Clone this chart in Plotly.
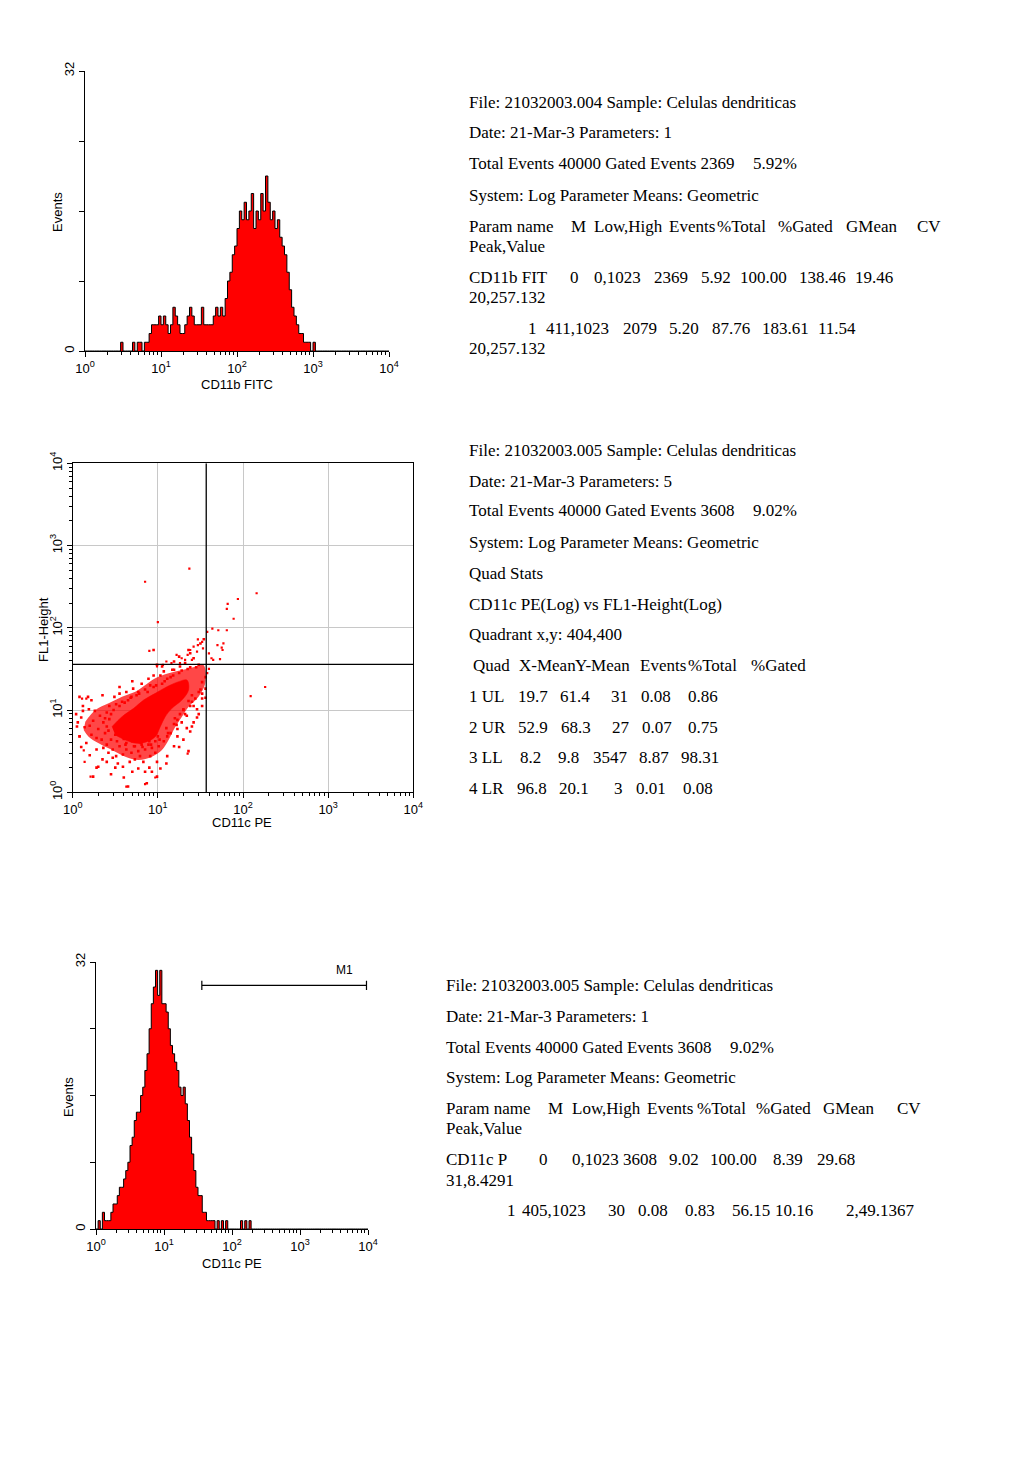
import numpy as np
import plotly.graph_objects as go

PAGE_W, PAGE_H = 1024, 1479
OFF = 8                     # the page body margin
W, H = PAGE_W - OFF, PAGE_H - OFF

# ---------------- DATA ----------------
# 128 log-spaced channels over 4 decades (10^0 .. 10^4)
n_bins = 128
cd11b_counts = [0]*15 + [1] + [0]*4 + [1, 0, 1, 1, 0, 1, 1,
    2, 3, 3, 3, 4, 3, 4, 3, 2, 3, 5, 4, 3, 2, 2, 3, 4, 5, 4, 3, 3, 3, 5, 3, 3,
    3, 3, 4, 5, 4, 5, 4, 6, 8, 9, 11, 12, 14, 16, 15, 17, 15, 16, 18, 14, 16, 15,
    18, 16, 20, 17, 15, 16, 14, 15, 13, 12, 11, 9, 7, 5, 4, 3, 2, 2, 1, 1, 1, 0, 1] + [0]*31

cd11c_counts = [0, 1, 0, 2, 1, 1, 1, 2, 3, 3, 4, 5, 5, 6, 7, 8, 10, 11, 13, 14, 14,
    16, 17, 19, 21, 24, 27, 29, 31, 28, 31, 27, 27, 26, 24, 22, 21, 20, 19, 17, 16,
    17, 15, 13, 11, 9, 7, 5, 4, 4, 2, 2, 1, 1, 1, 1, 0, 1, 0, 1, 0, 1,
    0, 0, 0, 0, 0, 0, 1, 0, 1, 0, 1] + [0]*55

# scatter CD11c PE (x) vs FL1-Height (y), values as log10
# medium-density envelope of the LL population
env_logx = [0.148, 0.266, 0.422, 0.579, 0.735, 0.853, 0.970, 1.126, 1.283, 1.439, 1.537, 1.557,
            1.478, 1.361, 1.283, 1.205, 1.126, 1.048, 0.931, 0.774, 0.618, 0.461, 0.305, 0.187,
            0.129]
env_logy = [0.859, 1.001, 1.082, 1.163, 1.223, 1.305, 1.386, 1.446, 1.487, 1.527, 1.548, 1.325,
            1.163, 1.041, 0.920, 0.798, 0.636, 0.514, 0.433, 0.393, 0.433, 0.514, 0.595, 0.676,
            0.757]
# dense core
core_logx = [0.461, 0.579, 0.716, 0.833, 0.970, 1.107, 1.244, 1.342, 1.361, 1.283, 1.166, 1.087,
             1.029, 0.970, 0.872, 0.755, 0.618, 0.500]
core_logy = [0.798, 0.920, 1.021, 1.122, 1.203, 1.284, 1.345, 1.365, 1.244, 1.122, 1.021, 0.920,
             0.798, 0.676, 0.616, 0.595, 0.636, 0.697]

halo_logx = [0.95, 0.99, 1.05, 1.07, 1.17, 1.19, 1.25, 1.36, 1.38, 1.50, 1.54, 1.42, 0.89, 0.81,
             0.71, 0.63, 0.55, 0.49, 0.95, 1.03, 1.11, 0.91, 0.77, 0.69, 0.61, 0.51, 0.43, 1.19,
             1.26, 1.32,
             0.08, 0.18, 0.10, 0.19, 0.24, 0.14, 0.08, 0.22, 0.16, 0.28, 0.30, 0.40, 0.24, 0.42,
             0.32, 0.36, 0.30, 0.38, 0.34, 0.26, 0.40, 0.43, 0.20, 0.12, 0.06, 0.28, 0.40, 0.45,
             0.36, 0.47,
             0.51, 0.59, 0.65, 0.87, 0.99, 0.93, 0.83, 0.73, 0.99, 1.11, 1.36, 1.19, 0.55, 0.63,
             0.69, 0.77, 0.85, 0.93, 1.01, 1.07, 0.59, 0.79, 0.91, 0.67, 0.47, 0.77, 0.85, 1.03,
             0.53, 0.97, 0.73, 0.63, 0.81, 0.89, 0.97, 1.11,
             1.30, 1.38, 1.42, 1.34, 1.46, 1.52, 1.56, 1.23, 1.28, 1.19, 1.38, 1.44, 1.48, 1.52,
             1.56, 1.26, 1.15, 1.23, 1.36, 1.40, 1.30, 1.23, 1.34, 1.46, 1.52, 1.56,
             0.40, 0.45, 0.50, 0.55, 0.60, 0.65, 0.70, 0.75, 0.80, 0.85, 0.90, 0.95, 1.00, 1.05,
             1.10, 1.15, 1.20, 1.25, 1.30, 1.35, 1.40, 1.45, 1.50, 0.38, 0.42, 0.48, 0.52, 0.58,
             0.62, 0.68, 0.72, 0.78, 0.82, 0.88, 0.92, 0.98, 1.02, 1.08, 1.12, 1.18, 1.22, 1.28,
             1.32, 1.38, 1.42, 1.48, 1.52,
             0.05, 0.12, 0.22, 0.35, 0.55, 0.70, 0.10, 0.20, 0.35, 0.50, 0.70, 1.10, 1.25, 1.40,
             1.48, 0.04, 0.28, 0.45, 0.60, 0.90]
halo_logy = [1.73, 1.55, 1.53, 1.47, 1.49, 1.59, 1.65, 1.73, 1.69, 1.81, 1.86, 1.63, 1.38, 1.32,
             1.26, 1.22, 1.20, 1.16, 1.42, 1.42, 1.38, 1.30, 1.22, 1.16, 1.09, 1.07, 1.05, 1.49,
             1.53, 1.57,
             1.16, 1.16, 0.91, 1.01, 0.87, 0.79, 0.68, 0.70, 0.60, 0.52, 0.31, 0.37, 0.19, 0.48,
             0.93, 0.85, 0.77, 0.72, 0.64, 0.99, 0.97, 0.89, 0.81, 0.99, 0.85, 0.66, 0.58, 0.64,
             0.54, 0.52,
             0.44, 0.31, 0.07, 0.11, 0.19, 0.25, 0.37, 0.40, 0.37, 0.44, 0.50, 0.56, 0.56, 0.52,
             0.48, 0.50, 0.52, 0.54, 0.56, 0.62, 0.46, 0.44, 0.44, 0.37, 0.42, 0.29, 0.25, 0.29,
             0.35, 0.48, 0.56, 0.60, 0.58, 0.58, 0.62, 0.68,
             0.64, 0.74, 0.85, 0.93, 1.01, 1.14, 1.26, 0.77, 0.85, 0.83, 1.05, 1.14, 1.22, 1.34,
             1.40, 0.95, 0.72, 0.68, 1.11, 1.18, 1.01, 0.88, 0.78, 0.91, 1.05, 1.15,
             0.80, 0.95, 0.70, 1.05, 0.65, 1.12, 0.62, 1.18, 0.60, 1.25, 0.62, 1.28, 0.68, 1.32,
             0.78, 1.40, 0.90, 1.45, 1.00, 1.50, 1.10, 1.52, 1.25, 0.90, 0.75, 1.00, 0.62, 1.10,
             0.58, 1.15, 0.56, 1.20, 0.55, 1.22, 0.58, 1.30, 0.64, 1.35, 0.72, 1.42, 0.82, 1.48,
             0.95, 1.52, 1.05, 1.55, 1.20,
             0.80, 1.05, 1.12, 1.18, 1.28, 1.35, 0.55, 0.45, 0.40, 0.30, 0.25, 0.35, 0.55, 0.80,
             0.95, 0.95, 0.30, 0.22, 0.18, 0.30]

outlier_logx = [1.37, 0.85, 1.00, 0.90, 2.16, 1.94, 1.82, 1.81, 1.89, 1.58, 1.64, 1.71, 1.81,
                1.47, 1.52, 1.47, 1.42, 1.38, 1.35, 1.53, 1.46, 1.70, 1.75, 1.77, 1.76, 1.60,
                1.63, 1.73, 1.65, 1.22, 1.28, 1.32, 1.16, 1.26, 1.40, 0.99, 1.06, 1.10, 2.26,
                2.09, 1.35, 0.97, 0.85, 0.63, 0.21, 0.11, 0.16, 0.08, 0.13, 0.14, 1.60, 1.58]
outlier_logy = [2.72, 2.56, 2.07, 1.72, 2.42, 2.35, 2.29, 2.23, 2.11, 1.95, 1.99, 1.97, 1.97,
                1.86, 1.83, 1.79, 1.77, 1.73, 1.67, 1.75, 1.71, 1.79, 1.76, 1.81, 1.73, 1.69,
                1.63, 1.62, 1.61, 1.67, 1.63, 1.61, 1.57, 1.57, 1.61, 1.53, 1.55, 1.59, 1.28,
                1.17, 0.47, 0.18, 0.10, 0.07, 0.19, 1.14, 1.14, 0.68, 0.51, 0.37, 1.50, 1.45]

quad_x, quad_y = 37.0, 36.0          # quadrant cross (PE, FL1)
m1_low, m1_high, m1_level = 36.0, 9500.0, 29.2

decade_vals = [1, 10, 100, 1000, 10000]
decade_text = ["10<sup>0</sup>", "10<sup>1</sup>", "10<sup>2</sup>", "10<sup>3</sup>", "10<sup>4</sup>"]
minor_vals = [m * 10**d for d in range(4) for m in range(2, 10)]

# text blocks: (x_px, y_px, text) in page pixels
block_top = [
    (469, 103, "File: 21032003.004 Sample: Celulas dendriticas"),
    (469, 133, "Date: 21-Mar-3 Parameters: 1"),
    (469, 164, "Total Events 40000 Gated Events 2369"), (753, 164, "5.92%"),
    (469, 195, "System: Log Parameter Means: Geometric"),
    (469, 226, "Param name"), (571, 226, "M"), (594, 226, "Low,High"), (669, 226, "Events"),
    (717, 226, "%Total"), (778, 226, "%Gated"), (846, 226, "GMean"), (917, 226, "CV"),
    (469, 246, "Peak,Value"),
    (469, 277, "CD11b FIT"), (570, 277, "0"), (594, 277, "0,1023"), (654, 277, "2369"),
    (701, 277, "5.92"), (740, 277, "100.00"), (799, 277, "138.46"), (855, 277, "19.46"),
    (469, 297, "20,257.132"),
    (528, 328, "1"), (546, 328, "411,1023"), (623, 328, "2079"), (669, 328, "5.20"),
    (712, 328, "87.76"), (762, 328, "183.61"), (818, 328, "11.54"),
    (469, 349, "20,257.132"),
]
block_mid = [
    (469, 450, "File: 21032003.005 Sample: Celulas dendriticas"),
    (469, 481, "Date: 21-Mar-3 Parameters: 5"),
    (469, 511, "Total Events 40000 Gated Events 3608"), (753, 511, "9.02%"),
    (469, 542, "System: Log Parameter Means: Geometric"),
    (469, 573, "Quad Stats"),
    (469, 604, "CD11c PE(Log) vs FL1-Height(Log)"),
    (469, 634, "Quadrant x,y: 404,400"),
    (473, 665, "Quad"), (519, 665, "X-Mean"), (575, 665, "Y-Mean"), (640, 665, "Events"),
    (688, 665, "%Total"), (751, 665, "%Gated"),
    (469, 696, "1 UL"), (518, 696, "19.7"), (560, 696, "61.4"), (611, 696, "31"), (641, 696, "0.08"), (688, 696, "0.86"),
    (469, 727, "2 UR"), (518, 727, "52.9"), (561, 727, "68.3"), (612, 727, "27"), (642, 727, "0.07"), (688, 727, "0.75"),
    (469, 757, "3 LL"), (520, 757, "8.2"), (558, 757, "9.8"), (593, 757, "3547"), (639, 757, "8.87"), (681, 757, "98.31"),
    (469, 788, "4 LR"), (517, 788, "96.8"), (559, 788, "20.1"), (614, 788, "3"), (636, 788, "0.01"), (683, 788, "0.08"),
]
block_bot = [
    (446, 985, "File: 21032003.005 Sample: Celulas dendriticas"),
    (446, 1016, "Date: 21-Mar-3 Parameters: 1"),
    (446, 1047, "Total Events 40000 Gated Events 3608"), (730, 1047, "9.02%"),
    (446, 1077, "System: Log Parameter Means: Geometric"),
    (446, 1108, "Param name"), (548, 1108, "M"), (572, 1108, "Low,High"), (647, 1108, "Events"),
    (697, 1108, "%Total"), (756, 1108, "%Gated"), (823, 1108, "GMean"), (897, 1108, "CV"),
    (446, 1128, "Peak,Value"),
    (446, 1159, "CD11c P"), (539, 1159, "0"), (572, 1159, "0,1023"), (623, 1159, "3608"),
    (669, 1159, "9.02"), (710, 1159, "100.00"), (773, 1159, "8.39"), (817, 1159, "29.68"),
    (446, 1180, "31,8.4291"),
    (507, 1210, "1"), (522, 1210, "405,1023"), (608, 1210, "30"), (638, 1210, "0.08"),
    (685, 1210, "0.83"), (732, 1210, "56.15"), (775, 1210, "10.16"), (846, 1210, "2,49.1367"),
]

# ---------------- FIGURE ----------------
def fx(px):
    return (px - OFF) / W

def fy(py):
    return 1 - (py - OFF) / H

def px_dom_x(a, b):
    return [fx(a), fx(b)]

def px_dom_y(top, bottom):
    return [fy(bottom), fy(top)]

edges = 10 ** (np.arange(n_bins + 1) * 4.0 / n_bins)

def step_xy(counts):
    xs = list(edges[:-1]) + [edges[-1]]
    ys = list(counts) + [counts[-1]]
    return xs, ys

RED = "#ff0000"
fig = go.Figure()

x1, y1 = step_xy(cd11b_counts)
fig.add_trace(go.Scatter(x=x1, y=y1, mode="lines", line=dict(shape="hv", color="black", width=1),
                         fill="tozeroy", fillcolor=RED, xaxis="x", yaxis="y", hoverinfo="skip"))

# scatter panel
fig.add_trace(go.Scatter(x=10 ** np.array(env_logx), y=10 ** np.array(env_logy), mode="lines",
                         fill="toself", fillcolor="rgba(255,0,0,0.72)", line=dict(width=0),
                         line_shape="spline", xaxis="x2", yaxis="y2", hoverinfo="skip"))
fig.add_trace(go.Scatter(x=10 ** np.array(core_logx), y=10 ** np.array(core_logy), mode="lines",
                         fill="toself", fillcolor=RED, line=dict(color=RED, width=0.5, shape="spline"),
                         xaxis="x2", yaxis="y2", hoverinfo="skip"))
fig.add_trace(go.Scatter(x=10 ** np.array(halo_logx), y=10 ** np.array(halo_logy), mode="markers",
                         marker=dict(color=RED, size=2.6, symbol="square", line=dict(width=0)),
                         xaxis="x2", yaxis="y2", hoverinfo="skip"))
fig.add_trace(go.Scatter(x=10 ** np.array(outlier_logx), y=10 ** np.array(outlier_logy), mode="markers",
                         marker=dict(color=RED, size=2.2, symbol="square", line=dict(width=0)),
                         xaxis="x2", yaxis="y2", hoverinfo="skip"))
fig.add_trace(go.Scatter(x=[quad_x, quad_x], y=[1, 10000], mode="lines", line=dict(color="black", width=1.3),
                         xaxis="x2", yaxis="y2", hoverinfo="skip"))
fig.add_trace(go.Scatter(x=[1, 10000], y=[quad_y, quad_y], mode="lines", line=dict(color="black", width=1.3),
                         xaxis="x2", yaxis="y2", hoverinfo="skip"))

x3, y3 = step_xy(cd11c_counts)
fig.add_trace(go.Scatter(x=x3, y=y3, mode="lines", line=dict(shape="hv", color="black", width=1),
                         fill="tozeroy", fillcolor=RED, xaxis="x3", yaxis="y3", hoverinfo="skip"))
cap = 0.55
fig.add_trace(go.Scatter(x=[m1_low, m1_low, m1_low, m1_high, m1_high, m1_high],
                         y=[m1_level + cap, m1_level - cap, m1_level, m1_level, m1_level + cap, m1_level - cap],
                         mode="lines", line=dict(color="black", width=1.2), xaxis="x3", yaxis="y3", hoverinfo="skip"))
fig.add_trace(go.Scatter(x=[4500], y=[30.9], mode="text", text=["M1"],
                         textfont=dict(family="Liberation Sans, Arial", size=12, color="black"),
                         xaxis="x3", yaxis="y3", hoverinfo="skip"))

tickfont = dict(family="Liberation Sans, Arial", size=13, color="black")

def log_xaxis(domain, anchor, mirror=False, grid=False):
    return dict(type="log", range=[0, 4], domain=domain, anchor=anchor, showline=True, linecolor="black",
                linewidth=1, mirror=mirror, ticks="outside", ticklen=5, tickcolor="black",
                tickvals=decade_vals, ticktext=decade_text, tickfont=tickfont, automargin=False,
                showgrid=grid, gridcolor="#c8c8c8", gridwidth=1, zeroline=False,
                minor=dict(tickmode="array", tickvals=minor_vals, ticks="outside", ticklen=3,
                           tickcolor="black", showgrid=False))

def count_yaxis(domain, anchor):
    return dict(range=[0, 32], domain=domain, anchor=anchor, showline=True, linecolor="black", linewidth=1,
                ticks="outside", ticklen=5, tickcolor="black", tickvals=[0, 8, 16, 24, 32],
                ticktext=["0", "", "", "", "32"], tickangle=-90, tickfont=tickfont, automargin=False,
                showgrid=False, zeroline=False)

fig.update_layout(
    template="none",
    width=W, height=H, margin=dict(l=0, r=0, t=0, b=0, pad=0, autoexpand=False),
    paper_bgcolor="white", plot_bgcolor="rgba(0,0,0,0)", showlegend=False,
    xaxis=log_xaxis(px_dom_x(85, 389), "y"),
    yaxis=count_yaxis(px_dom_y(71, 351), "x"),
    xaxis2=log_xaxis(px_dom_x(72.7, 413.3), "y2", mirror=True, grid=True),
    yaxis2=dict(log_xaxis(px_dom_y(463.3, 792.3), "x2", mirror=True, grid=True), tickangle=-90),
    xaxis3=log_xaxis(px_dom_x(96, 368), "y3"),
    yaxis3=count_yaxis(px_dom_y(962, 1229), "x3"),
)

annotations = []
serif = dict(family="Liberation Serif, Times New Roman, serif", size=17, color="black")
for blk in (block_top, block_mid, block_bot):
    for (x, y, t) in blk:
        annotations.append(dict(x=fx(x - 2), y=fy(y), xref="paper", yref="paper", text=t,
                                showarrow=False, xanchor="left", yanchor="middle", font=serif))

sans = dict(family="Liberation Sans, Arial", size=13, color="black")
for (x, y, t, ang) in [(58, 212, "Events", -90), (237, 384, "CD11b FITC", 0),
                       (43, 630, "FL1-Height", -90), (242, 822, "CD11c PE", 0),
                       (68, 1097, "Events", -90), (232, 1263, "CD11c PE", 0)]:
    annotations.append(dict(x=fx(x), y=fy(y), xref="paper", yref="paper", text=t, textangle=ang,
                            showarrow=False, xanchor="center", yanchor="middle", font=sans))
fig.update_layout(annotations=annotations)

fig.write_html("out.html")
